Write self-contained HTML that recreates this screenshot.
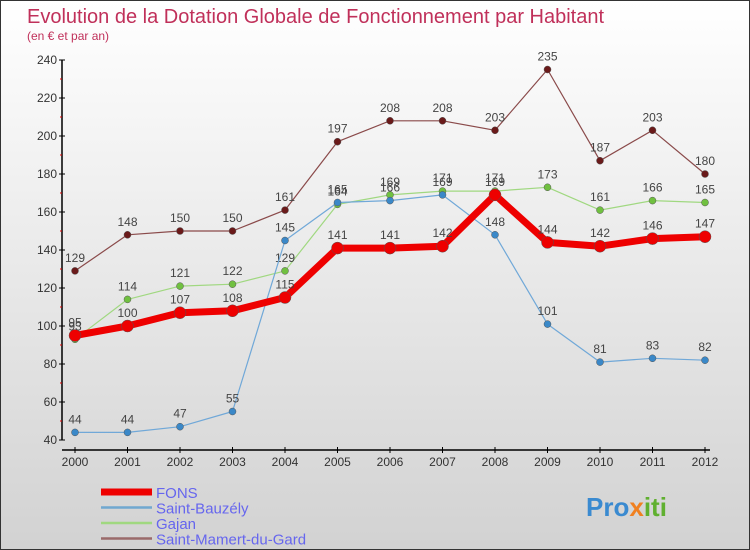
<!DOCTYPE html>
<html><head><meta charset="utf-8"><style>
html,body{margin:0;padding:0}
body{width:750px;height:550px;overflow:hidden;font-family:"Liberation Sans",sans-serif}
#wrap{position:relative;width:748px;height:548px;border:1px solid #333;background:linear-gradient(#ffffff,#d2d2d2)}
</style></head><body>
<div id="wrap">
<svg id="chart" width="748" height="548" style="position:absolute;left:0;top:0">
<text x="26" y="22" font-size="20" fill="#c0305a">Evolution de la Dotation Globale de Fonctionnement par Habitant</text>
<text x="26" y="39" font-size="12" fill="#c0305a">(en € et par an)</text>
<g id="axes"></g><g id="series"></g><g id="legend"></g>
<text x="585" y="515" font-size="26" font-weight="bold" fill="#3a8ad0">Pro<tspan fill="#f08020">x</tspan><tspan fill="#60b030">iti</tspan></text>
</svg>
</div>
<script>
const years=["2000","2001","2002","2003","2004","2005","2006","2007","2008","2009","2010","2011","2012"];
const yTicks=[40,60,80,100,120,140,160,180,200,220,240];
const fons=[95,100,107,108,115,141,141,142,169,144,142,146,147];
const saintBauzely=[44,44,47,55,145,165,166,169,148,101,81,83,82];
const gajan=[93,114,121,122,129,164,169,171,171,173,161,166,165];
const saintMamert=[129,148,150,150,161,197,208,208,203,235,187,203,180];
const NS="http://www.w3.org/2000/svg";
function X(i){return 74+i*52.5;}
function Y(v){return 439-(v-40)*1.9;}
function mk(t,a,p){const e=document.createElementNS(NS,t);for(const k in a)e.setAttribute(k,a[k]);p.appendChild(e);return e;}
const ax=document.getElementById('axes');
let l=mk('line',{x1:61,y1:Y(240),x2:61,y2:Y(40),stroke:'#000','stroke-width':1.5},ax);


l=mk('line',{x1:61,y1:449,x2:X(12)+5,y2:449,stroke:'#000','stroke-width':1.5},ax);


yTicks.forEach((v,i)=>{
 mk('line',{x1:58,y1:Y(v),x2:64,y2:Y(v),stroke:'#000'},ax);
 if(i<yTicks.length-1)mk('line',{x1:59,y1:Y(v+10),x2:61,y2:Y(v+10),stroke:'#d00'},ax);
 const t=mk('text',{x:56,y:Y(v)+4,'font-size':12,fill:'#333','text-anchor':'end'},ax);t.textContent=v;
 
 
});
years.forEach((y,i)=>{
 mk('line',{x1:X(i),y1:446,x2:X(i),y2:452,stroke:'#000'},ax);
 const t=mk('text',{x:X(i),y:465,'font-size':12,fill:'#333','text-anchor':'middle'},ax);t.textContent=y;
 
 
});
const sg=document.getElementById('series');
function drawSeries(data,color,dot,w,r,name){
 const g=mk('g',{},sg);
 
 
 mk('polyline',{points:data.map((v,i)=>X(i)+','+Y(v)).join(' '),fill:'none',stroke:color,'stroke-width':w,'stroke-linejoin':'round'},g);
 data.forEach((v,i)=>{
  const c=mk('circle',{cx:X(i),cy:Y(v),r:r,fill:dot,stroke:'#555','stroke-width':0.5},g);
  
  
  const t=mk('text',{x:X(i),y:Y(v)-9,'font-size':12,fill:'#444','text-anchor':'middle'},g);t.textContent=v;
  
  
 });
}
drawSeries(saintMamert,'#8a4a4a','#6a1a1a',1.2,3.5,'series-saint-mamert');
drawSeries(gajan,'#a0d880','#70c040',1.2,3.5,'series-gajan');
drawSeries(saintBauzely,'#70a8d8','#3a88c8',1.2,3.5,'series-saint-bauzely');
drawSeries(fons,'#ee0000','#ee0000',7,6,'series-fons');
const lg=document.getElementById('legend');
const leg=[["FONS","#ee0000",7],["Saint-Bauzély","#70a8d0",2.5],["Gajan","#a0d880",2.5],["Saint-Mamert-du-Gard","#9a6a6a",2.5]];
leg.forEach((d,i)=>{
 const y=491+i*15.5;
 const g=mk('g',{},lg);
 
 
 mk('line',{x1:100,y1:y,x2:151,y2:y,stroke:d[1],'stroke-width':d[2]},g);
 const t=mk('text',{x:155,y:y+6,'font-size':15,fill:'#6666ee'},g);t.textContent=d[0];
});
</script>
</body></html>
